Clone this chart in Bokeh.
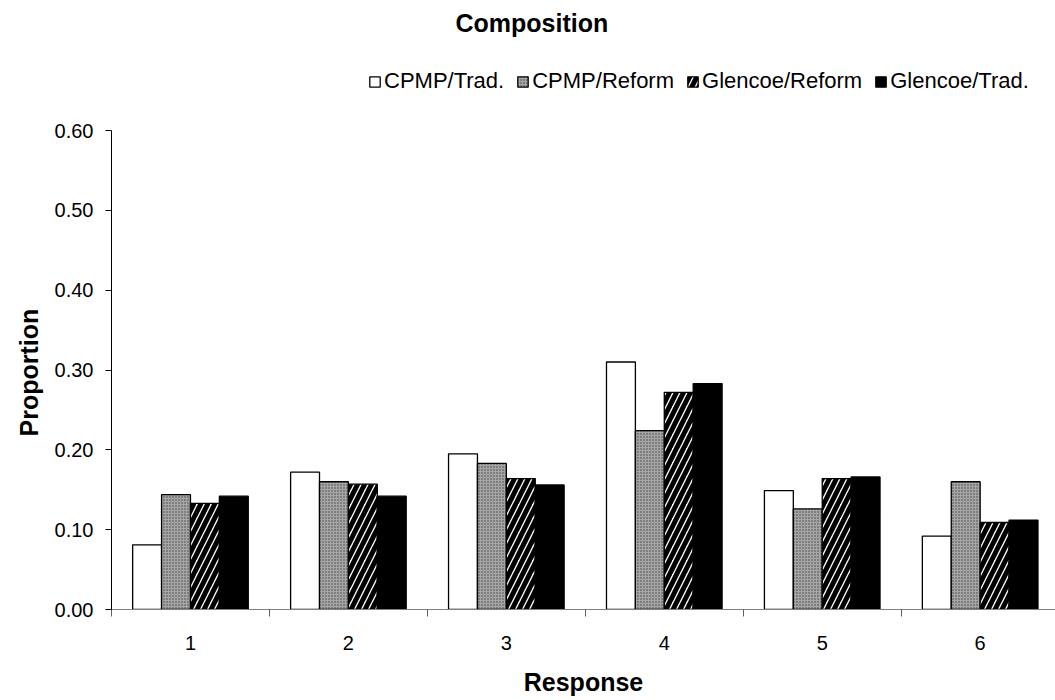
from bokeh.plotting import figure
from bokeh.models import ColumnDataSource, FixedTicker, Legend, LegendItem, Title, Range1d
from bokeh.transform import dodge
from bokeh.embed import file_html
from bokeh.resources import INLINE

responses = [1, 2, 3, 4, 5, 6]
series = ["CPMP/Trad.", "CPMP/Reform", "Glencoe/Reform", "Glencoe/Trad."]
cpmp_trad = [0.081, 0.172, 0.195, 0.310, 0.149, 0.092]
cpmp_reform = [0.144, 0.160, 0.183, 0.224, 0.126, 0.160]
glencoe_reform = [0.133, 0.157, 0.164, 0.272, 0.164, 0.109]
glencoe_trad = [0.142, 0.142, 0.156, 0.283, 0.166, 0.112]
y_ticks = [0.0, 0.1, 0.2, 0.3, 0.4, 0.5, 0.6]

src = ColumnDataSource(dict(x=responses, a=cpmp_trad, b=cpmp_reform,
                            c=glencoe_reform, d=glencoe_trad))

FONT = "Liberation Sans"
TOP = 40          # frame top in px
BOTTOM = 609      # y=0 in px
PX_PER_UNIT = (609 - 130) / 0.6
y_end = 0.6 + (130 - TOP) / PX_PER_UNIT

p = figure(width=1055, height=700, output_backend="svg", toolbar_location=None,
           x_range=Range1d(0.5, 6.477), y_range=Range1d(0, y_end), title=None,
           min_border_left=111, min_border_right=0, min_border_top=TOP,
           min_border_bottom=700 - BOTTOM)
p.outline_line_color = None
p.grid.visible = False
p.background_fill_color = "white"
p.border_fill_color = "white"

w = 0.183
style = dict(line_color="black", line_width=1.3)
r1 = p.vbar(x=dodge("x", -1.5 * w), top="a", width=w, source=src,
            fill_color="white", **style)
r2 = p.vbar(x=dodge("x", -0.5 * w), top="b", width=w, source=src,
            fill_color="#a6a6a6", hatch_pattern="dot", hatch_color="#404040",
            hatch_scale=3, hatch_weight=1, **style)
r3 = p.vbar(x=dodge("x", 0.5 * w), top="c", width=w, source=src,
            fill_color="white", hatch_pattern="right_diagonal_line",
            hatch_color="black", hatch_scale=14, hatch_weight=5, **style)
r4 = p.vbar(x=dodge("x", 1.5 * w), top="d", width=w, source=src,
            fill_color="black", **style)

# x axis: labels at centers, ticks at category boundaries
xa = p.xaxis[0]
xa.ticker = FixedTicker(ticks=responses,
                        minor_ticks=[r + 0.5 for r in responses[:-1]] + [0.5])
xa.major_tick_line_color = None
xa.major_tick_out = 0
xa.minor_tick_in = 0
xa.minor_tick_out = 7
xa.minor_tick_line_color = "#606060"
xa.axis_line_color = "#808080"
xa.major_label_text_font = FONT
xa.major_label_text_font_size = "20px"
xa.major_label_text_color = "black"
xa.major_label_standoff = 19
xa.axis_label = "Response"
xa.axis_label_text_font = FONT
xa.axis_label_text_font_size = "25px"
xa.axis_label_text_font_style = "bold"
xa.axis_label_text_color = "black"
xa.axis_label_standoff = 15

ya = p.yaxis[0]
ya.bounds = (0, 0.6)
ya.ticker = FixedTicker(ticks=y_ticks, minor_ticks=[])
ya.major_label_overrides = {t: f"{t:.2f}" for t in y_ticks}
ya.major_tick_in = 0
ya.major_tick_out = 6
ya.major_tick_line_color = "black"
ya.axis_line_color = "black"
ya.major_label_text_font = FONT
ya.major_label_text_font_size = "20px"
ya.major_label_text_color = "black"
ya.major_label_standoff = 12

# y-axis title, centred on the 0..0.6 span rather than the whole frame
ytitle = Title(text="Proportion", align="left", offset=609 - 436,
               text_font=FONT, text_font_size="25px", text_font_style="bold",
               text_color="black", standoff=18)
p.add_layout(ytitle, "left")

legend = Legend(items=[LegendItem(label=series[0], renderers=[r1]),
                       LegendItem(label=series[1], renderers=[r2]),
                       LegendItem(label=series[2], renderers=[r3]),
                       LegendItem(label=series[3], renderers=[r4])],
                orientation="horizontal",
                location=(368 - 111, BOTTOM - 84 - 10),
                glyph_width=13, glyph_height=13, label_standoff=3,
                spacing=12, padding=0, margin=0, label_height=20,
                label_text_font=FONT, label_text_font_size="22px",
                label_text_color="black",
                border_line_color=None, background_fill_alpha=0)
p.add_layout(legend, "center")

p.title = Title(text="Composition", align="left", offset=455 - 111,
                text_font=FONT, text_font_size="25px", text_font_style="bold",
                text_color="black", standoff=8)

open("out.html", "w").write(file_html(p, INLINE))
